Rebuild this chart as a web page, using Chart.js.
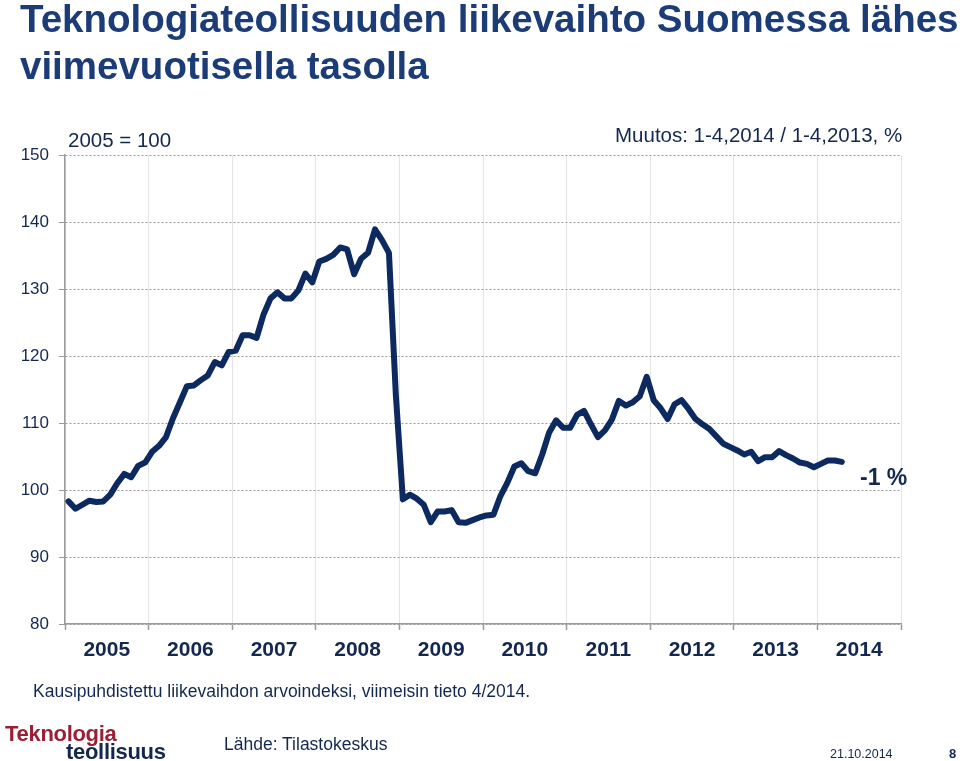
<!DOCTYPE html>
<html>
<head>
<meta charset="utf-8">
<script src="https://cdn.jsdelivr.net/npm/chart.js@4.4.1/dist/chart.umd.min.js"></script>
<style>
  html, body { margin: 0; padding: 0; background: #ffffff; }
  body { width: 960px; height: 761px; position: relative; overflow: hidden; font-family: "Liberation Sans", Arial, sans-serif; }
  #wrap { position: absolute; left: 0; top: 0; width: 960px; height: 761px; }
  .t { position: absolute; white-space: nowrap; }
  #title { left: 20px; top: -5px; font-size: 38.5px; font-weight: bold; color: #1c3c78; line-height: 47px; }
  #base { left: 68px; top: 128px; font-size: 20.5px; color: #14284f; }
  #muutos { left: 615px; top: 123px; font-size: 20.5px; color: #14284f; }
  #change { left: 860px; top: 464px; font-size: 23px; font-weight: bold; color: #14284f; }
  #note { left: 33px; top: 681px; font-size: 17.5px; color: #14284f; }
  #logo1 { left: 5px; top: 721px; font-size: 22px; font-weight: bold; color: #9b1f34; letter-spacing: -0.3px; }
  #logo2 { left: 66px; top: 739px; font-size: 22px; font-weight: bold; color: #14284f; letter-spacing: -0.3px; }
  #source { left: 224px; top: 734px; font-size: 17.5px; color: #14284f; }
  #date { left: 830px; top: 747px; font-size: 12.5px; color: #14284f; }
  #page { left: 949px; top: 746px; font-size: 13px; font-weight: bold; color: #14284f; }
</style>
</head>
<body>
<div id="wrap"><canvas id="c" width="960" height="761"></canvas></div>
<div class="t" id="title">Teknologiateollisuuden liikevaihto Suomessa lähes<br>viimevuotisella tasolla</div>
<div class="t" id="base">2005 = 100</div>
<div class="t" id="muutos">Muutos: 1-4,2014 / 1-4,2013, %</div>
<div class="t" id="change">-1 %</div>
<div class="t" id="note">Kausipuhdistettu liikevaihdon arvoindeksi, viimeisin tieto 4/2014.</div>
<div class="t" id="logo1">Teknologia</div>
<div class="t" id="logo2">teollisuus</div>
<div class="t" id="source">Lähde: Tilastokeskus</div>
<div class="t" id="date">21.10.2014</div>
<div class="t" id="page">8</div>
<script>
// Years on the x axis (each year = 12 monthly slots)
const years = ['2005','2006','2007','2008','2009','2010','2011','2012','2013','2014'];
// Y axis tick range
const yTicks = [80, 90, 100, 110, 120, 130, 140, 150];
// Monthly index values, Jan 2005 .. Apr 2014 (2005 = 100)
const values2005 = [98.3, 97.2, 97.8, 98.4, 98.2, 98.3, 99.3, 101.0, 102.4, 101.9, 103.6, 104.1];
const values2006 = [105.7, 106.6, 107.9, 110.7, 113.1, 115.5, 115.6, 116.4, 117.1, 119.1, 118.6, 120.6];
const values2007 = [120.8, 123.1, 123.1, 122.7, 126.2, 128.6, 129.5, 128.6, 128.6, 129.8, 132.3, 131.0];
const values2008 = [134.1, 134.5, 135.1, 136.2, 135.9, 132.2, 134.5, 135.4, 138.9, 137.3, 135.4, 114.0];
const values2009 = [98.6, 99.3, 98.7, 97.8, 95.2, 96.8, 96.8, 97.0, 95.2, 95.1, 95.5, 95.9];
const values2010 = [96.2, 96.3, 99.1, 101.1, 103.5, 104.0, 102.8, 102.5, 105.3, 108.6, 110.4, 109.3];
const values2011 = [109.3, 111.2, 111.8, 109.8, 107.9, 108.9, 110.5, 113.3, 112.6, 113.1, 114.0, 116.9];
const values2012 = [113.4, 112.2, 110.6, 112.8, 113.4, 112.1, 110.6, 109.8, 109.1, 108.0, 106.9, 106.4];
const values2013 = [105.9, 105.3, 105.7, 104.3, 104.9, 104.9, 105.8, 105.2, 104.7, 104.1, 103.9, 103.4];
const values2014 = [103.9, 104.4, 104.4, 104.2];

const values = [].concat(values2005, values2006, values2007, values2008, values2009,
                         values2010, values2011, values2012, values2013, values2014);
const points = values.map((v, i) => ({ x: i + 0.5, y: v }));
const nMonths = years.length * 12;

new Chart(document.getElementById('c'), {
  type: 'line',
  data: {
    datasets: [{
      data: points,
      borderColor: '#0c2a5f',
      borderWidth: 6,
      pointRadius: 0,
      tension: 0,
      borderJoinStyle: 'round',
      borderCapStyle: 'round',
      fill: false
    }]
  },
  options: {
    responsive: false,
    animation: false,
    plugins: { legend: { display: false }, tooltip: { enabled: false } },
    layout: { padding: { left: 0, top: 155, right: 59, bottom: 87 } },
    scales: {
      x: {
        type: 'linear',
        min: 0,
        max: nMonths,
        afterBuildTicks: (s) => {
          const t = [];
          for (let v = 0; v <= nMonths; v += 6) t.push({ value: v });
          s.ticks = t;
        },
        afterFit: (s) => { s.height = 50; },
        ticks: {
          autoSkip: false,
          maxRotation: 0,
          padding: 8,
          color: '#14284f',
          font: { family: '"Liberation Sans", Arial, sans-serif', size: 21, weight: 'bold' },
          callback: (v) => (v % 12 === 6) ? years[(v - 6) / 12] : ''
        },
        grid: {
          drawOnChartArea: true,
          color: (ctx) => (ctx.tick && ctx.tick.value % 12 === 0) ? '#e4e4e4' : 'rgba(0,0,0,0)',
          tickColor: (ctx) => (ctx.tick && ctx.tick.value % 12 === 0) ? '#9a9a9a' : 'rgba(0,0,0,0)',
          tickLength: 6,
          lineWidth: 1,
          tickWidth: 1.5
        },
        border: { display: true, color: '#9a9a9a', width: 1.5 }
      },
      y: {
        min: yTicks[0],
        max: yTicks[yTicks.length - 1],
        afterBuildTicks: (s) => { s.ticks = yTicks.map(v => ({ value: v })); },
        afterFit: (s) => { s.width = 65; },
        ticks: {
          padding: 10,
          color: '#14284f',
          font: { family: '"Liberation Sans", Arial, sans-serif', size: 17 }
        },
        grid: {
          color: '#9a9a9a',
          lineWidth: 1,
          tickBorderDash: [],
          tickColor: '#9a9a9a',
          tickLength: 6,
          tickWidth: 1
        },
        border: { display: true, color: '#9a9a9a', width: 1.5, dash: [2, 2] }
      }
    }
  }
});
</script>
</body>
</html>
